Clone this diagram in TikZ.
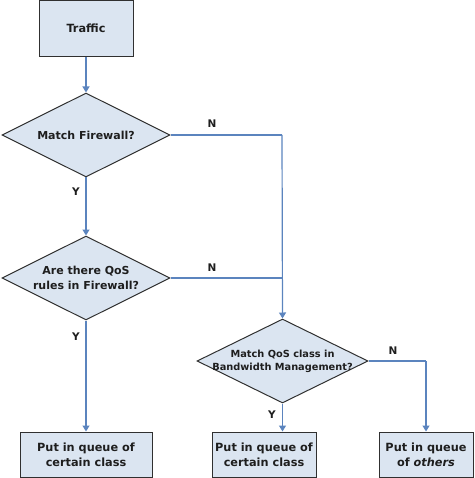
\documentclass[tikz,border=0pt]{standalone}
\usepackage{fontspec}
\setmainfont{DejaVu Sans}
\usetikzlibrary{shapes.geometric,arrows.meta,calc}
\definecolor{boxfill}{HTML}{DBE5F1}
\definecolor{boxline}{HTML}{303030}
\definecolor{arr}{HTML}{5B84BE}
\definecolor{txt}{HTML}{1E1E1E}
\tikzset{
  procbox/.style={draw=boxline, fill=boxfill, line width=1pt, inner sep=0pt, align=center, text=txt, font=\fontsize{11.3}{15}\selectfont\bfseries},
  decision/.style={diamond, draw=boxline, fill=boxfill, line width=1pt, inner sep=0pt, aspect=2, align=center, text=txt, font=\fontsize{11}{15}\selectfont\bfseries},
  flow/.style={draw=arr, line width=1.2pt, -{Triangle[length=6pt,width=7pt]}},
  flowline/.style={draw=arr, line width=1.2pt},
  yn/.style={font=\fontsize{10.5}{12}\selectfont\bfseries, text=txt, inner sep=0pt}
}
\begin{document}
\begin{tikzpicture}[x=1pt,y=-1pt]
\useasboundingbox (0,0) rectangle (474,478);
\node[procbox, minimum width=94pt, minimum height=56pt] (traffic) at (86,28.5) {Traffic};
\node[decision, minimum width=168pt, minimum height=84pt] (d1) at (86,135) {Match Firewall?};
\node[decision, minimum width=168pt, minimum height=84pt] (d2) at (86,278) {Are there QoS\\rules in Firewall?};
\node[decision, minimum width=171pt, minimum height=84pt, inner sep=-12pt, font=\fontsize{9.8}{13}\selectfont\bfseries] (d3) at (282.5,361) {Match QoS class in\\Bandwidth Management?};
\node[procbox, minimum width=132pt, minimum height=45pt] (b1) at (86,454.5) {Put in queue of\\certain class};
\node[procbox, minimum width=104pt, minimum height=45pt] (b2) at (264,454.5) {Put in queue of\\certain class};
\node[procbox, minimum width=94pt, minimum height=45pt] (b3) at (426,454.5) {Put in queue\\of \textit{others}};
\coordinate (j1) at (282,135);
\coordinate (j2) at (282,278);
\coordinate (j3) at (426,361);
\draw[flow] (traffic.south) -- (d1.north);
\draw[flow] (d1.south) -- (d2.north);
\draw[flow] (d2.south) -- (b1.north);
\draw[flowline] (d1.east) -- (j1);
\draw[flowline] (d2.east) -- (j2);
\draw[flow] (j1) -- (d3.north);
\draw[flow] (d3.south) -- (d3.south |- b2.north);
\draw[flowline] (d3.east) -- (j3);
\draw[flow] (j3) -- (b3.north);
\node[yn] (n1) at (212,124) {N};
\node[yn] (y1) at (76,192) {Y};
\node[yn] (n2) at (212,268) {N};
\node[yn] (y2) at (76,337) {Y};
\node[yn] (n3) at (393,351) {N};
\node[yn] (y3) at (272,415) {Y};
\end{tikzpicture}
\end{document}
